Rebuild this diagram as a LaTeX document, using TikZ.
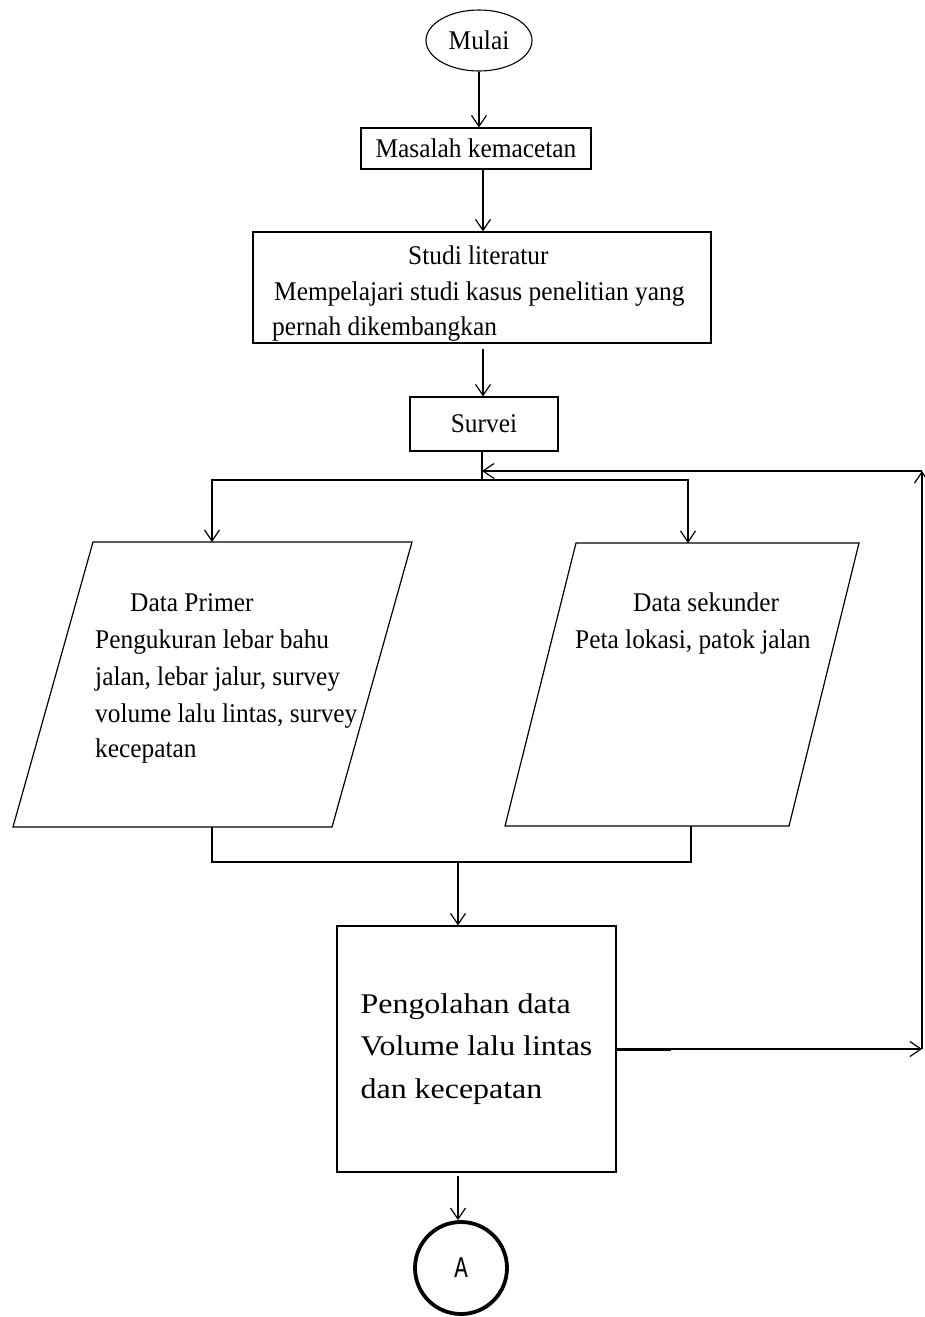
\documentclass[tikz,border=0pt]{standalone}
\usepackage{fontspec}
\setmainfont{Liberation Serif}
\newfontfamily\narrowserif[FakeStretch=0.94]{Liberation Serif}
\newfontfamily\wideserif[FakeStretch=1.12]{Liberation Serif}
\newfontfamily\narrowmono[FakeStretch=0.75]{Liberation Mono}
\usetikzlibrary{shapes.geometric,arrows.meta}
\newcommand{\boxfont}{\narrowserif\fontsize{27}{36}\selectfont}
\newcommand{\procfont}{\wideserif\fontsize{28.5}{42.5}\selectfont}
\tikzstyle{terminal}=[ellipse, draw, line width=1.1pt, inner sep=0pt, font=\boxfont]
\tikzstyle{process}=[rectangle, draw, line width=1.2pt, inner sep=0pt, font=\boxfont]
\tikzstyle{datain}=[draw, line width=1.2pt, line join=miter]
\tikzstyle{linetext}=[anchor=base west, inner sep=0pt, font=\boxfont]
\tikzstyle{connector}=[circle, draw, line width=3.8pt, inner sep=0pt, minimum size=92pt, font=\narrowmono\fontsize{30}{30}\selectfont]
\tikzstyle{flow}=[line width=1.2pt]
\tikzset{>={Straight Barb[length=11pt,width=15pt]}}

\begin{document}
\begin{tikzpicture}[x=1pt,y=-1pt]
  \useasboundingbox (0,0) rectangle (925,1317);

  \draw (479,40.5) node[terminal, minimum width=106pt, minimum height=61pt] (mulai) {Mulai};
  \draw (476,148.5) node[process, minimum width=230pt, minimum height=41pt] (masalah) {Masalah kemacetan};
  \draw (482,287.5) node[process, minimum width=458pt, minimum height=111pt] (studi) {};
  \draw (484,424) node[process, minimum width=148pt, minimum height=54pt] (survei) {Survei};

  %% input / output data
  \draw[datain] (13,827) -- (93,542) -- (412,542) -- (332,827) -- cycle;
  \draw[datain] (505,826) -- (576,543) -- (859,543) -- (789,826) -- cycle;
  \coordinate (primerIn) at (212,542);
  \coordinate (primerOut) at (212,827);
  \coordinate (sekunderIn) at (688,543);
  \coordinate (sekunderOut) at (691,826);

  \draw (476.5,1049) node[process, minimum width=279pt, minimum height=246pt,
    align=left, font=\procfont] (proses) {Pengolahan data\\Volume lalu lintas\\dan kecepatan};
  \draw (461,1268) node[connector] (titikA) {A};

  %% texts in the boxes
  \draw (408,264) node[linetext] (studi1) {Studi literatur};
  \draw (274,300) node[linetext] (studi2) {Mempelajari studi kasus penelitian yang};
  \draw (272,335) node[linetext] (studi3) {pernah dikembangkan};

  \draw (130,611) node[linetext] (primer1) {Data Primer};
  \draw (95,648) node[linetext] (primer2) {Pengukuran lebar bahu};
  \draw (95,685) node[linetext] (primer3) {jalan, lebar jalur, survey};
  \draw (95,722) node[linetext] (primer4) {volume lalu lintas, survey};
  \draw (95,757) node[linetext] (primer5) {kecepatan};

  \draw (633,611) node[linetext] (sekunder1) {Data sekunder};
  \draw (575,648) node[linetext] (sekunder2) {Peta lokasi, patok jalan};

  %% points of the flow lines
  \coordinate (axis) at (483,0);
  \coordinate (split) at (482,480);
  \coordinate (join) at (458,862);
  \coordinate (loopBot) at (922,1049);
  \coordinate (loopTop) at (922,471);

  \draw[->, flow] (mulai.south) -- (mulai.south |- masalah.north);
  \draw[->, flow] (axis |- masalah.south) -- (axis |- studi.north);
  \draw[->, flow] ([yshift=-5pt]axis |- studi.south) -- (axis |- survei.north);
  \draw[flow] (split |- survei.south) -- (split);
  \draw[->, flow] (split) -| (primerIn);
  \draw[->, flow] (split) -| (sekunderIn);
  \draw[flow] (primerOut) |- (join) -| (sekunderOut);
  \draw[->, flow] (join) -- (join |- proses.north);
  \draw[->, flow] ([yshift=-3pt]proses.south -| join) -- (join |- titikA.north);

  %% back to the survey
  \draw[->, flow] (proses.east) -- (loopBot);
  \draw[line width=3pt] (proses.east) -- ++(54,0);
  \draw[->, flow] (loopBot) -- (loopTop);
  \draw[->, flow] (loopTop) -- (loopTop -| split);
\end{tikzpicture}
\end{document}
